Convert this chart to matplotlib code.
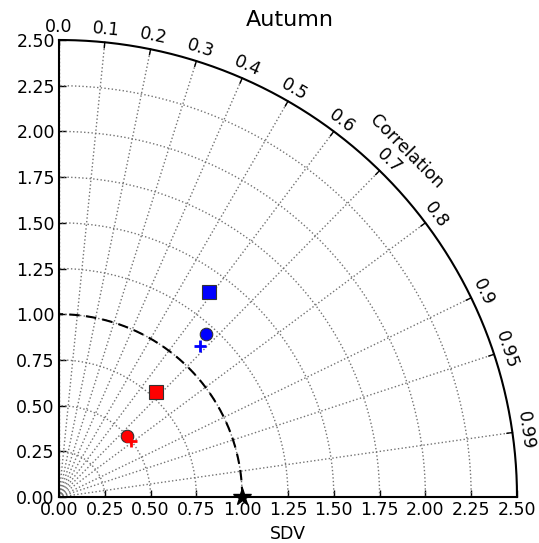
import numpy as np
import matplotlib
matplotlib.use("Agg")
import matplotlib.pyplot as plt

# Model statistics: standard deviation (normalised) and correlation with the reference
model_std = [1.39, 1.20, 1.13, 0.78, 0.50, 0.50]
model_corr = [0.59, 0.67, 0.68, 0.68, 0.74, 0.79]
model_color = ["blue", "blue", "blue", "red", "red", "red"]
model_marker = ["s", "o", "+", "s", "o", "+"]

ref_std = 1.0
sd_max = 2.5
sd_ticks = [0.0, 0.25, 0.5, 0.75, 1.0, 1.25, 1.5, 1.75, 2.0, 2.25, 2.5]
corr_ticks = [0.0, 0.1, 0.2, 0.3, 0.4, 0.5, 0.6, 0.7, 0.8, 0.9, 0.95, 0.99]
corr_labels = ["0.0", "0.1", "0.2", "0.3", "0.4", "0.5", "0.6", "0.7", "0.8", "0.9", "0.95", "0.99"]

W, H = 539, 543
fig = plt.figure(figsize=(W / 100, H / 100), dpi=100)
ax = fig.add_axes([59 / W, 1 - 497 / H, 458 / W, 457 / H])
ax.set_xlim(0, sd_max)
ax.set_ylim(0, sd_max)

for side in ("top", "right"):
    ax.spines[side].set_visible(False)
for side in ("left", "bottom"):
    ax.spines[side].set_linewidth(1.5)

ax.set_xticks(sd_ticks)
ax.set_yticks(sd_ticks)
ax.set_xticklabels([f"{v:.2f}" for v in sd_ticks])
ax.set_yticklabels([f"{v:.2f}" for v in sd_ticks])
ax.tick_params(direction="in", length=5, width=1, labelsize=12.5, pad=3)
ax.set_xlabel("SDV", fontsize=12.5, labelpad=4)

theta = np.linspace(0, np.pi / 2, 400)

# dotted grid: arcs of constant standard deviation and rays of constant correlation
for r in sd_ticks[1:-1]:
    ax.plot(r * np.cos(theta), r * np.sin(theta), ls=":", color="0.45", lw=1)
for c in corr_ticks:
    t = np.arccos(c)
    ax.plot([0, sd_max * np.cos(t)], [0, sd_max * np.sin(t)], ls=":", color="0.45", lw=1)

# outer boundary arc with correlation ticks and labels
ax.plot(sd_max * np.cos(theta), sd_max * np.sin(theta), color="black", lw=1.5, clip_on=False)
for c, lab in zip(corr_ticks, corr_labels):
    t = np.arccos(c)
    ax.plot([sd_max * np.cos(t), (sd_max - 0.03) * np.cos(t)],
            [sd_max * np.sin(t), (sd_max - 0.03) * np.sin(t)], color="black", lw=1)
    rl = sd_max + 0.072
    ax.text(rl * np.cos(t), rl * np.sin(t), lab, rotation=np.degrees(t) - 90,
            rotation_mode="anchor", ha="center", va="center", fontsize=12.5, clip_on=False)

tc = np.radians(44.9)
ax.text(2.68 * np.cos(tc), 2.68 * np.sin(tc), "Correlation", rotation=np.degrees(tc) - 90,
        rotation_mode="anchor", ha="center", va="center", fontsize=12.5, clip_on=False)

# reference standard deviation arc and reference point
ax.plot(ref_std * np.cos(theta), ref_std * np.sin(theta), color="black", lw=1.5,
        ls=(0, (5, 3)))
ax.plot([ref_std], [0], marker="*", color="black", ms=13, clip_on=False, zorder=5)

for s, c, col, m in zip(model_std, model_corr, model_color, model_marker):
    t = np.arccos(c)
    if m == "+":
        ax.plot(s * np.cos(t), s * np.sin(t), marker=m, color=col, ms=9, mew=2, ls="none", zorder=4)
    else:
        ax.plot(s * np.cos(t), s * np.sin(t), marker=m, mfc=col, mec="0.2", mew=0.8,
                ms=9.5 if m == "s" else 9, ls="none", zorder=4)

fig.text(289.5 / W, 1 - 20 / H, "Autumn", ha="center", va="center", fontsize=16)

fig.savefig("out.png", dpi=100)
